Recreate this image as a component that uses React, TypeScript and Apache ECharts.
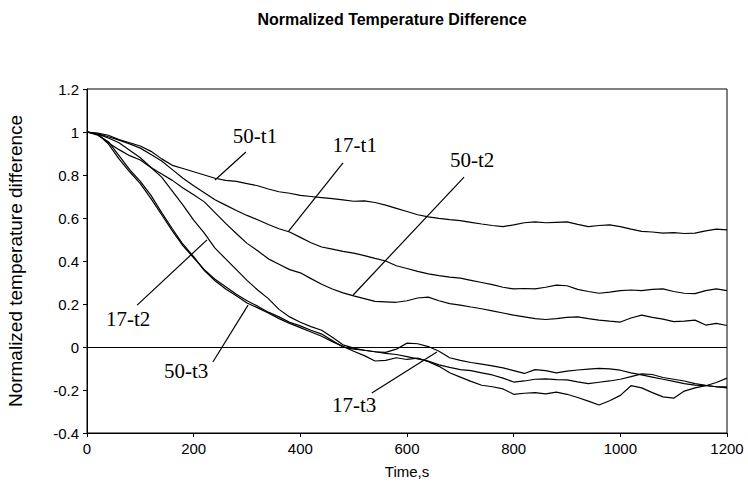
import React, { useEffect, useRef } from "react";
import * as echarts from "echarts";

// Time axis (s)
const TIME = [
  0, 20, 40, 60, 80, 100, 120, 140, 160, 180, 200, 220, 240, 260, 280, 300, 320, 340, 360, 380,
  400, 420, 440, 460, 480, 500, 520, 540, 560, 580, 600, 620, 640, 660, 680, 700, 720, 740, 760, 780,
  800, 820, 840, 860, 880, 900, 920, 940, 960, 980, 1000, 1020, 1040, 1060, 1080, 1100, 1120, 1140, 1160, 1180,
  1200,
];

const S_50T1 = [
  1.0, 0.995, 0.985, 0.965, 0.95, 0.935, 0.91, 0.875, 0.845, 0.83, 0.815, 0.8, 0.785, 0.775, 0.77, 0.76, 0.75, 0.735, 0.722, 0.715,
  0.705, 0.7, 0.695, 0.69, 0.684, 0.678, 0.68, 0.672, 0.66, 0.645, 0.63, 0.615, 0.605, 0.598, 0.592, 0.588, 0.58, 0.572, 0.565, 0.56,
  0.568, 0.578, 0.582, 0.578, 0.58, 0.582, 0.57, 0.56, 0.565, 0.568, 0.56, 0.548, 0.538, 0.535, 0.53, 0.532, 0.528, 0.53, 0.54, 0.548,
  0.545,
];

const S_17T1 = [
  1.0, 0.992, 0.978, 0.962, 0.945, 0.925, 0.895, 0.865, 0.825, 0.785, 0.75, 0.718, 0.685, 0.66, 0.635, 0.612, 0.592, 0.57, 0.55, 0.535,
  0.51, 0.485, 0.465, 0.455, 0.445, 0.437, 0.425, 0.412, 0.4, 0.378, 0.365, 0.352, 0.34, 0.332, 0.325, 0.32, 0.31, 0.3, 0.29, 0.278,
  0.27, 0.272, 0.27, 0.278, 0.288, 0.285, 0.268, 0.258, 0.25, 0.255, 0.262, 0.265, 0.262, 0.268, 0.27, 0.258, 0.25, 0.248, 0.262, 0.27,
  0.262,
];

const S_50T2 = [
  1.0, 0.99, 0.972, 0.95, 0.915, 0.88, 0.835, 0.805, 0.775, 0.74, 0.708, 0.675, 0.625, 0.575, 0.528, 0.482, 0.448, 0.41, 0.385, 0.36,
  0.345, 0.318, 0.292, 0.27, 0.252, 0.238, 0.225, 0.212, 0.21, 0.208, 0.215, 0.228, 0.232, 0.215, 0.202, 0.195, 0.186, 0.178, 0.168, 0.158,
  0.148, 0.14, 0.132, 0.128, 0.132, 0.138, 0.14, 0.132, 0.125, 0.12, 0.116, 0.135, 0.148, 0.138, 0.13, 0.118, 0.12, 0.125, 0.102, 0.11,
  0.1,
];

const S_17T2 = [
  1.0, 0.99, 0.95, 0.918, 0.89, 0.87, 0.835, 0.79, 0.725, 0.66, 0.59, 0.53, 0.46, 0.41, 0.36, 0.31, 0.265, 0.225, 0.175, 0.14,
  0.115, 0.095, 0.078, 0.045, 0.01, -0.005, -0.015, -0.022, -0.025, -0.01, 0.018, 0.015, 0.002, -0.02, -0.05, -0.062, -0.072, -0.08, -0.088, -0.097,
  -0.11, -0.123, -0.105, -0.11, -0.12, -0.112, -0.107, -0.103, -0.099, -0.102, -0.108, -0.12, -0.13, -0.14, -0.15, -0.16, -0.17, -0.177, -0.18, -0.185,
  -0.185,
];

const S_50T3 = [
  1.0, 0.99, 0.945, 0.875, 0.815, 0.76, 0.69, 0.615, 0.54, 0.47, 0.415, 0.36, 0.315, 0.28, 0.245, 0.215, 0.19, 0.162, 0.14, 0.115,
  0.098, 0.078, 0.06, 0.03, 0.0, -0.01, -0.015, -0.022, -0.03, -0.035, -0.045, -0.055, -0.065, -0.083, -0.095, -0.105, -0.11, -0.12, -0.13, -0.145,
  -0.163, -0.158, -0.15, -0.148, -0.152, -0.153, -0.162, -0.17, -0.164, -0.158, -0.15, -0.138, -0.125, -0.128, -0.142, -0.15, -0.158, -0.17, -0.178, -0.185,
  -0.19,
];

const S_17T3 = [
  1.0, 0.985, 0.955, 0.89, 0.825, 0.77, 0.705, 0.625, 0.55, 0.478, 0.42, 0.355, 0.308, 0.27, 0.238, 0.205, 0.182, 0.158, 0.132, 0.11,
  0.09, 0.07, 0.05, 0.025, 0.003, -0.02, -0.04, -0.065, -0.062, -0.05, -0.058, -0.052, -0.068, -0.09, -0.12, -0.14, -0.16, -0.178, -0.185, -0.195,
  -0.22, -0.215, -0.212, -0.218, -0.21, -0.22, -0.235, -0.252, -0.27, -0.25, -0.225, -0.18, -0.19, -0.212, -0.232, -0.238, -0.205, -0.19, -0.18, -0.165,
  -0.145,
];

const SERIES_NAMES = ["50-t1", "17-t1", "50-t2", "17-t2", "50-t3", "17-t3"];
const SERIES_VALUES = [S_50T1, S_17T1, S_50T2, S_17T2, S_50T3, S_17T3];

// Annotation labels and leaders, in data coordinates [time, value]
const ANNOTATION_TEXT = ["50-t1", "17-t1", "50-t2", "17-t2", "50-t3", "17-t3"];
const ANNOTATION_LABEL_AT = [
  [315, 0.981],
  [502, 0.94],
  [722, 0.87],
  [77, 0.13],
  [186, -0.112],
  [501, -0.27],
];
const ANNOTATION_LEADER_FROM = [
  [298, 0.907],
  [480, 0.856],
  [707, 0.79],
  [94, 0.195],
  [236, -0.07],
  [534, -0.214],
];
const ANNOTATION_LEADER_TO = [
  [240, 0.777],
  [377, 0.535],
  [499, 0.242],
  [225, 0.498],
  [302, 0.195],
  [656, -0.023],
];

const X_TICKS = { min: 0, max: 1200, interval: 200 };
const Y_TICKS = { min: -0.4, max: 1.2, interval: 0.2 };

const SANS = "'Liberation Sans', Arial, sans-serif";
const SERIF = "'Liberation Serif', 'Times New Roman', serif";

export default function App() {
  const ref = useRef<HTMLDivElement>(null);

  useEffect(() => {
    if (!ref.current) return;
    const chart = echarts.init(ref.current, null, { renderer: "svg" });

    const series: any[] = SERIES_NAMES.map((name, i) => ({
      name,
      type: "line",
      data: TIME.map((t, k) => [t, SERIES_VALUES[i][k]]),
      showSymbol: false,
      symbol: "none",
      smooth: false,
      lineStyle: { color: "#000", width: 1.2 },
      z: 3,
    }));
    series[0].markLine = {
      silent: true,
      symbol: "none",
      label: { show: false },
      lineStyle: { color: "#000", width: 1, type: "solid" },
      data: [{ yAxis: 0 }],
      z: 2,
    };

    chart.setOption({
      animation: false,
      backgroundColor: "#fff",
      grid: {
        left: 87,
        right: 21,
        top: 89,
        bottom: 57,
        containLabel: false,
        outerBoundsMode: "none",
        show: true,
        borderColor: "#000",
        borderWidth: 1,
        backgroundColor: "transparent",
      },
      xAxis: {
        type: "value",
        min: X_TICKS.min,
        max: X_TICKS.max,
        interval: X_TICKS.interval,
        name: "Time,s",
        nameLocation: "middle",
        nameGap: 31,
        nameTextStyle: { color: "#000", fontSize: 15, fontFamily: SANS },
        axisLine: { show: true, onZero: false, lineStyle: { color: "#000", width: 1 } },
        axisTick: { show: true, length: 4, lineStyle: { color: "#000" } },
        axisLabel: {
          color: "#000",
          fontSize: 15,
          fontFamily: SANS,
          margin: 8,
          formatter: (v: number) => String(v),
        },
        splitLine: { show: false },
      },
      yAxis: {
        type: "value",
        min: Y_TICKS.min,
        max: Y_TICKS.max,
        interval: Y_TICKS.interval,
        name: "Normalized temperature difference",
        nameLocation: "middle",
        nameGap: 62,
        nameTextStyle: { color: "#000", fontSize: 19, fontFamily: SANS },
        axisLine: { show: true, onZero: false, lineStyle: { color: "#000", width: 1 } },
        axisTick: { show: true, length: 4, lineStyle: { color: "#000" } },
        axisLabel: {
          color: "#000",
          fontSize: 15,
          fontFamily: SANS,
          margin: 8,
          formatter: (v: number) => String(Math.round(v * 10) / 10),
        },
        splitLine: { show: false },
      },
      series,
    });

    const px = (p: number[]) => chart.convertToPixel({ gridIndex: 0 }, p) as number[];
    const graphic: any[] = [
      {
        type: "text",
        x: 392,
        y: 19,
        style: {
          text: "Normalized Temperature Difference",
          font: `bold 16px ${SANS}`,
          fill: "#000",
          textAlign: "center",
          textVerticalAlign: "middle",
          align: "center",
          verticalAlign: "middle",
        },
      },
    ];
    ANNOTATION_TEXT.forEach((text, i) => {
      const a = px(ANNOTATION_LEADER_FROM[i]);
      const b = px(ANNOTATION_LEADER_TO[i]);
      const c = px(ANNOTATION_LABEL_AT[i]);
      graphic.push({
        type: "line",
        shape: { x1: a[0], y1: a[1], x2: b[0], y2: b[1] },
        style: { stroke: "#000", lineWidth: 1.2 },
        z: 10,
      });
      graphic.push({
        type: "text",
        x: c[0],
        y: c[1],
        style: {
          text,
          font: `21px ${SERIF}`,
          fill: "#000",
          textAlign: "center",
          textVerticalAlign: "middle",
          align: "center",
          verticalAlign: "middle",
        },
        z: 10,
      });
    });
    chart.setOption({ graphic });

    return () => chart.dispose();
  }, []);

  return (
    <div
      ref={ref}
      style={{ position: "absolute", left: 0, top: 0, width: 748, height: 490, background: "#fff" }}
    />
  );
}
